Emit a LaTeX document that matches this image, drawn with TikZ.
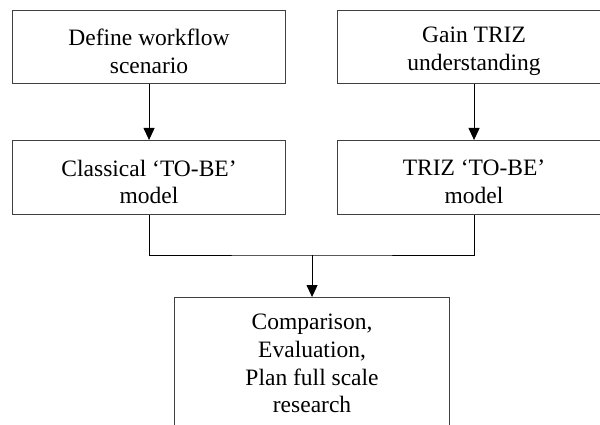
\documentclass[tikz,border=0pt]{standalone}
\usepackage{fontspec}
\setmainfont{Liberation Serif}
\usetikzlibrary{arrows.meta}
\begin{document}
\begin{tikzpicture}[x=1pt,y=-1pt,
  box/.style={draw=black!75,line width=1.1pt,rectangle,inner sep=0pt,anchor=north west},
  wide/.style={minimum width=273pt,minimum height=74pt},
  label text/.style={align=center,inner sep=0pt,font=\fontsize{23.5}{27.7}\selectfont},
  link/.style={draw=black,line width=1pt},
  arr/.style={link,-{Triangle[width=11pt,length=12pt]}}]
\useasboundingbox[clip] (0,0) rectangle (600,425);
\fill[white] (0,0) rectangle (600,425);
% boxes
\node[box,wide,minimum height=73pt] (def) at (12,10) {};
\node[box,wide,minimum height=73pt] (gain) at (337,10) {};
\node[box,wide] (cls) at (12,140) {};
\node[box,wide] (triz) at (337,140) {};
\node[box,minimum width=275pt,minimum height=150pt] (cmp) at (174,297) {};
% box texts
\node[label text] (tdef) at ([yshift=-4.5pt]def.center) {Define workflow\\scenario};
\node[label text] (tgain) at ([yshift=-4.5pt]gain.center) {Gain TRIZ\\understanding};
\node[label text] (tcls) at ([yshift=-4.5pt]cls.center) {Classical ‘TO-BE’\\model};
\node[label text] (ttriz) at ([yshift=-4.5pt]triz.center) {TRIZ ‘TO-BE’\\model};
\node[label text,anchor=north] (tcmp) at ([yshift=-17pt]cmp.north) {Comparison,\\Evaluation,\\Plan full scale\\research};
% connectors
\draw[arr] (def.south) -- (cls.north);
\draw[arr] (gain.south) -- (triz.north);
\coordinate (join) at (cmp.north |- 0,255);
\draw[link] (cls.south) |- (join) -| (triz.south);
\draw[arr] (join) -- (cmp.north);
\end{tikzpicture}
\end{document}
